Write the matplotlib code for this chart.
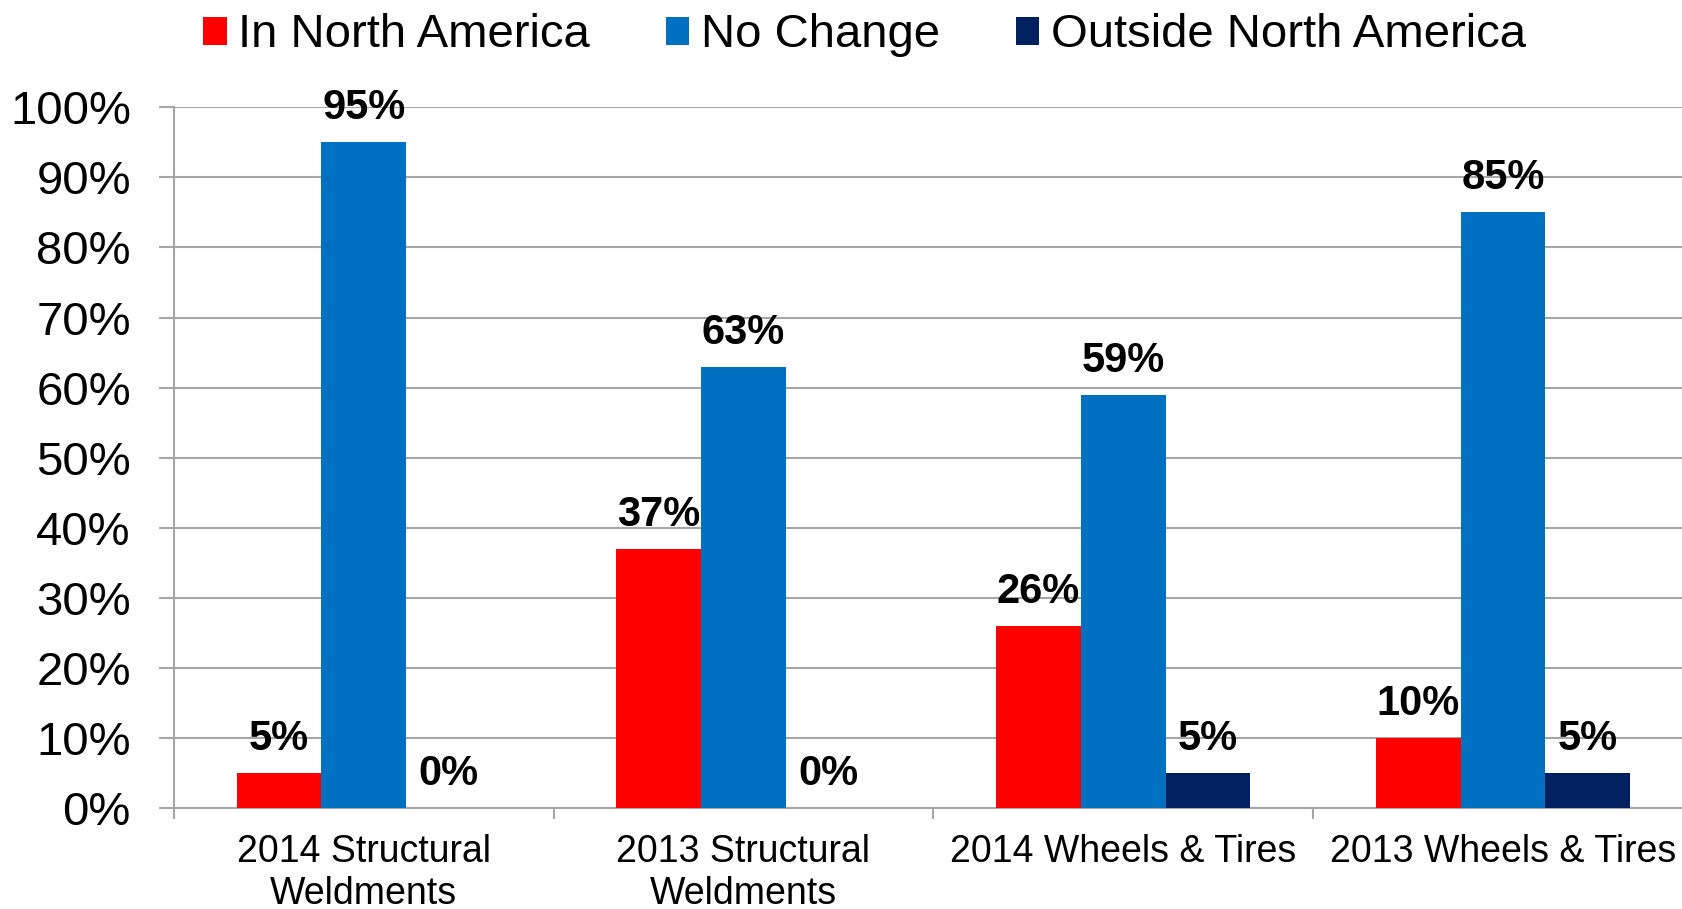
import matplotlib.pyplot as plt
import numpy as np

plt.rcParams['font.family'] = ['Liberation Sans', 'DejaVu Sans']

categories = ['2014 Structural\nWeldments', '2013 Structural\nWeldments',
              '2014 Wheels & Tires', '2013 Wheels & Tires']
series_names = ['In North America', 'No Change', 'Outside North America']
in_na = [5, 37, 26, 10]
no_change = [95, 63, 59, 85]
outside_na = [0, 0, 5, 5]
colors = ['#FF0000', '#0070C0', '#002060']
yticks = [0, 10, 20, 30, 40, 50, 60, 70, 80, 90, 100]

fig = plt.figure(figsize=(16.82, 9.09), dpi=100)
# plot area runs slightly past the right edge of the figure, as in the original
ax = fig.add_axes([0.1034, 0.111, 0.903, 0.771])

x = np.arange(len(categories))
width = 0.223
offsets = [-width, 0, width]
for vals, name, col, off in zip([in_na, no_change, outside_na], series_names, colors, offsets):
    bars = ax.bar(x + off, vals, width, color=col, label=name, zorder=3)
    for b, v in zip(bars, vals):
        ax.annotate(f'{v}%', (b.get_x() + b.get_width() / 2, v),
                    xytext=(0, 10), textcoords='offset points',
                    ha='center', va='bottom', fontsize=30, fontweight='bold')

ax.set_xlim(-0.5, 3.5)
ax.set_ylim(0, 100)
ax.set_yticks(yticks)
ax.set_yticklabels([f'{t}%' for t in yticks], fontsize=34)
ax.yaxis.grid(True, color='#A6A6A6', linewidth=1.5, zorder=0)
ax.tick_params(axis='y', length=11, width=1.5, color='#A6A6A6', pad=20)

ax.set_xticks(x)
ax.set_xticklabels(categories, fontsize=27, linespacing=1.2)
ax.set_xticks(np.arange(-0.5, 4.0, 1.0), minor=True)
ax.tick_params(axis='x', which='major', length=0, pad=19)
ax.tick_params(axis='x', which='minor', length=8, width=1.5, color='#A6A6A6')

for s in ['top', 'right']:
    ax.spines[s].set_visible(False)
for s in ['left', 'bottom']:
    ax.spines[s].set_color('#A6A6A6')
    ax.spines[s].set_linewidth(1.5)

fig.legend(loc='center', bbox_to_anchor=(0.514, 0.961), ncol=3, frameon=False,
           fontsize=34, handlelength=0.5, handleheight=0.55, handletextpad=0.25,
           columnspacing=1.6)

fig.savefig('out.png', dpi=100)
